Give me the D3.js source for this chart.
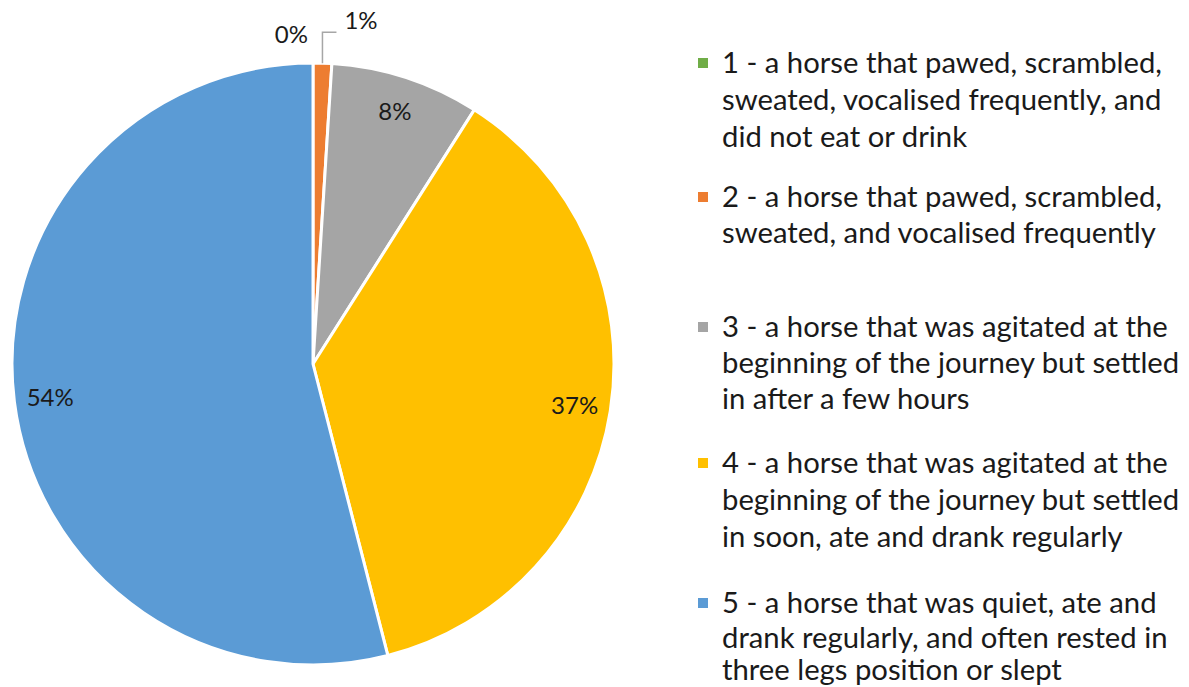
<!DOCTYPE html>
<html>
<head>
<meta charset="utf-8">
<script src="https://cdn.jsdelivr.net/npm/d3@7"></script>
<style>
  html, body { margin: 0; padding: 0; background: #fff; }
  svg text { font-family: Lato, "Open Sans", sans-serif; fill: #1a1a1a; }
</style>
</head>
<body>
<div id="chart"></div>
<script>
// data
var categories = ['1', '2', '3', '4', '5'];
var values = [0, 1, 8, 37, 54];
var value_labels = ['0%', '1%', '8%', '37%', '54%'];
var legend_lines = [
    ['1 - a horse that pawed, scrambled,', 'sweated, vocalised frequently, and', 'did not eat or drink'],
    ['2 - a horse that pawed, scrambled,', 'sweated, and vocalised frequently'],
    ['3 - a horse that was agitated at the', 'beginning of the journey but settled', 'in after a few hours'],
    ['4 - a horse that was agitated at the', 'beginning of the journey but settled', 'in soon, ate and drank regularly'],
    ['5 - a horse that was quiet, ate and', 'drank regularly, and often rested in', 'three legs position or slept']
];
var colors = ['#70AD47', '#ED7D31', '#A5A5A5', '#FFC000', '#5B9BD5'];

var width = 1189, height = 687;
var cx = 313, cy = 364, radius = 301;

var svg = d3.select('#chart').append('svg')
    .attr('width', width)
    .attr('height', height);

var color = d3.scaleOrdinal().domain(categories).range(colors);

var pie = d3.pie().sort(null).value(function(d) { return d.value; });
var arc = d3.arc().innerRadius(0).outerRadius(radius);

var data = categories.map(function(c, i) {
    return {cat: c, value: values[i], label: value_labels[i]};
});
var arcs = pie(data);

var g = svg.append('g').attr('transform', 'translate(' + cx + ',' + cy + ')');

g.selectAll('path.slice')
    .data(arcs)
    .enter()
  .append('path')
    .attr('class', 'slice')
    .attr('d', arc)
    .attr('fill', function(d) { return color(d.data.cat); })
    .attr('stroke', '#fff')
    .attr('stroke-width', 3)
    .attr('stroke-linejoin', 'round');

// point on a circle of radius r at the middle of a slice
var polar = function(d, r) {
    var a = (d.startAngle + d.endAngle) / 2;
    return [Math.sin(a) * r, -Math.cos(a) * r];
};

var labelSize = 24;

// labels inside the big slices
g.selectAll('text.inner')
    .data(arcs.filter(function(d) { return d.data.value >= 5; }))
    .enter()
  .append('text')
    .attr('class', 'inner')
    .attr('x', function(d) { return polar(d, radius * 0.88)[0]; })
    .attr('y', function(d) { return polar(d, radius * 0.88)[1]; })
    .attr('text-anchor', 'middle')
    .attr('dy', '0.35em')
    .style('font-size', labelSize + 'px')
    .text(function(d) { return d.data.label; });

// 0% label, just outside on the left of the top
var zero = arcs[0];
var p0 = polar(zero, radius);
g.append('text')
    .attr('x', p0[0] - 5)
    .attr('y', p0[1] - 20)
    .attr('text-anchor', 'end')
    .style('font-size', labelSize + 'px')
    .text(zero.data.label);

// 1% label with a leader line
var one = arcs[1];
var p1 = polar(one, radius);
var elbow = [p1[0], p1[1] - 31];
g.append('polyline')
    .attr('points', [p1, elbow, [elbow[0] + 14, elbow[1]]].map(function(p) { return p.join(','); }).join(' '))
    .attr('fill', 'none')
    .attr('stroke', '#A6A6A6')
    .attr('stroke-width', 1.5);
g.append('text')
    .attr('x', elbow[0] + 22)
    .attr('y', elbow[1] - 3)
    .style('font-size', labelSize + 'px')
    .text(one.data.label);

// legend
var legend_x = 698, text_x = 722;
var legend_baselines = [
    [73, 110, 147],
    [207, 243],
    [337, 373, 409],
    [473, 510, 547],
    [613, 648, 680]
];

// fit the legend font so the first line is as wide as in the picture
var probe = svg.append('text').style('font-size', '100px').text(legend_lines[0][0]);
var legendSize = 100 * 440 / probe.node().getComputedTextLength();
probe.remove();

var legend = svg.append('g').attr('class', 'legend');
var items = legend.selectAll('g')
    .data(categories)
    .enter()
  .append('g');

items.append('rect')
    .attr('x', legend_x)
    .attr('y', function(d, i) { return legend_baselines[i][0] - 15; })
    .attr('width', 10)
    .attr('height', 10)
    .attr('fill', function(d) { return color(d); });

items.each(function(d, i) {
    d3.select(this).selectAll('text')
        .data(legend_lines[i])
        .enter()
      .append('text')
        .attr('x', text_x)
        .attr('y', function(t, j) { return legend_baselines[i][j]; })
        .style('font-size', legendSize + 'px')
        .text(function(t) { return t; });
});
</script>
</body>
</html>
